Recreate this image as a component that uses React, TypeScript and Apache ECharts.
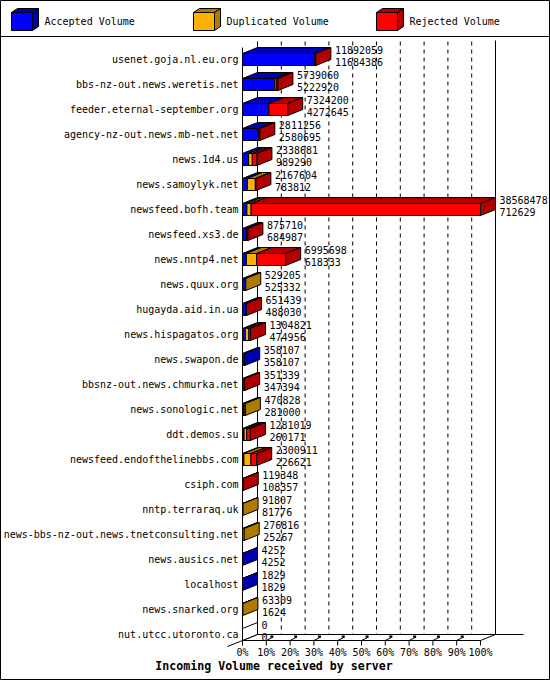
import React, { useEffect, useRef } from "react";
import * as echarts from "echarts";

const servers = [
  "usenet.goja.nl.eu.org",
  "bbs-nz-out.news.weretis.net",
  "feeder.eternal-september.org",
  "agency-nz-out.news.mb-net.net",
  "news.1d4.us",
  "news.samoylyk.net",
  "newsfeed.bofh.team",
  "newsfeed.xs3.de",
  "news.nntp4.net",
  "news.quux.org",
  "hugayda.aid.in.ua",
  "news.hispagatos.org",
  "news.swapon.de",
  "bbsnz-out.news.chmurka.net",
  "news.sonologic.net",
  "ddt.demos.su",
  "newsfeed.endofthelinebbs.com",
  "csiph.com",
  "nntp.terraraq.uk",
  "news-bbs-nz-out.news.tnetconsulting.net",
  "news.ausics.net",
  "localhost",
  "news.snarked.org",
  "nut.utcc.utoronto.ca",
];

const totalVolume = [
  11892059, 5739060, 7324200, 2811256, 2338681, 2167604, 38568478, 875710,
  6995698, 529205, 651439, 1304821, 358107, 351339, 470828, 1281019, 2300911,
  119348, 91807, 276816, 4252, 1829, 63309, 0,
];
const acceptedVolume = [
  11684386, 5222920, 4272645, 2580695, 989290, 783812, 712629, 684987, 618333,
  525332, 488030, 474956, 358107, 347394, 281000, 260171, 226621, 108357,
  81776, 25267, 4252, 1829, 1624, 0,
];
const duplicatedVolume = [
  0, 250000, 0, 0, 600000, 1300000, 680000, 0, 1690000, 3873, 0, 560000, 0, 0,
  189828, 420000, 1130000, 0, 10031, 251549, 0, 0, 61685, 0,
];
const rejectedVolume = [
  207673, 266140, 3051555, 230561, 749391, 83792, 37175849, 190723, 4687365, 0,
  163409, 269865, 0, 3945, 0, 600848, 944290, 10991, 0, 0, 0, 0, 0, 0,
];

const percentTicks = [0, 10, 20, 30, 40, 50, 60, 70, 80, 90, 100];

const legendNames = ["Accepted Volume", "Duplicated Volume", "Rejected Volume"];
const frontColors = ["#0000ff", "#ffb000", "#ff0000"];
const darkColors = ["#0000b0", "#b07a00", "#b00000"];

const FONT = '10px "DejaVu Sans Mono", monospace';
const DX = 15; // depth of the 3d effect
const DY = -6;
const HALF = 6; // half height of a bar's front face

export default function App() {
  const chartRef = useRef<HTMLDivElement>(null);

  useEffect(() => {
    if (!chartRef.current) return;
    const chart = echarts.init(chartRef.current, null, { renderer: "svg" });
    const maxTotal = Math.max(...totalVolume);
    const n = servers.length;

    const barData = servers.map((_, i) => [
      totalVolume[i],
      i,
      acceptedVolume[i],
      duplicatedVolume[i],
      rejectedVolume[i],
    ]);

    const renderBar = (params: any, api: any) => {
      const i = api.value(1);
      const parts = [api.value(2), api.value(3), api.value(4)];
      const tot = api.value(0);
      const yc = api.coord([0, i])[1];
      const top = yc - HALF;
      const bottom = yc + HALF;
      const children: any[] = [];
      let start = 0;
      let sideColor = "#ffffff";
      parts.forEach((v: number, k: number) => {
        if (v <= 0) return;
        const xa = api.coord([start, i])[0];
        const xb = api.coord([start + v, i])[0];
        children.push({
          type: "polygon",
          shape: {
            points: [
              [xa, top],
              [xa + DX, top + DY],
              [xb + DX, top + DY],
              [xb, top],
            ],
          },
          style: { fill: darkColors[k], stroke: "#000", lineWidth: 1 },
        });
        children.push({
          type: "rect",
          shape: { x: xa, y: top, width: xb - xa, height: bottom - top },
          style: { fill: frontColors[k], stroke: "#000", lineWidth: 1 },
        });
        start += v;
        sideColor = darkColors[k];
      });
      const xe = api.coord([tot, i])[0];
      children.push({
        type: "polygon",
        shape: {
          points: [
            [xe, top],
            [xe + DX, top + DY],
            [xe + DX, bottom + DY],
            [xe, bottom],
          ],
        },
        style: { fill: sideColor, stroke: "#000", lineWidth: 1 },
      });
      children.push({
        type: "text",
        style: {
          text: String(tot),
          x: xe + DX + 4,
          y: yc - 9,
          font: FONT,
          fill: "#000",
          align: "left",
          verticalAlign: "middle",
        },
      });
      children.push({
        type: "text",
        style: {
          text: String(parts[0]),
          x: xe + DX + 4,
          y: yc + 2.5,
          font: FONT,
          fill: "#000",
          align: "left",
          verticalAlign: "middle",
        },
      });
      return { type: "group", children };
    };

    const renderFrame = (params: any, api: any) => {
      const xL = api.coord([0, 0])[0];
      const xR = api.coord([maxTotal, 0])[0];
      const yTop = api.coord([0, 0])[1] - HALF - 12;
      const yFront = api.coord([0, n - 1])[1] + HALF;
      const yBack = yFront + DY;
      const line = (x1: number, y1: number, x2: number, y2: number, dash?: number[]) => ({
        type: "line",
        shape: { x1, y1, x2, y2 },
        style: { stroke: "#000", lineWidth: 1, lineDash: dash },
      });
      const children: any[] = [];
      // back wall
      children.push(line(xL + DX, yTop, xL + DX, yBack));
      children.push(line(xR + DX, yTop - 1, xR + DX, yBack));
      percentTicks.forEach((p) => {
        if (p === 0 || p === 100) return;
        const x = api.coord([(p / 100) * maxTotal, 0])[0] + DX;
        children.push(line(x, yTop, x, yBack, [4, 4]));
      });
      // front left edge
      children.push(line(xL, yTop - DY, xL, yFront));
      // floor
      children.push(line(xL, yFront, xR, yFront));
      children.push(line(xL + DX, yBack, xR + DX + 28, yBack));
      children.push(line(xL - DX, yFront - DY, xL + DX, yBack));
      children.push(line(xR, yFront, xR + DX, yBack));
      percentTicks.forEach((p) => {
        const x = api.coord([(p / 100) * maxTotal, 0])[0];
        children.push(line(x, yFront, x, yFront + 5));
        if (p !== 0 && p !== 100) {
          children.push(line(x, yFront, x + 7, yFront - 3.5));
          children.push({
            type: "rect",
            shape: { x: x + 4, y: yFront - 5, width: 3, height: 2 },
            style: { fill: "#000" },
          });
        }
        children.push({
          type: "text",
          style: {
            text: p + "%",
            x,
            y: yFront + 12,
            font: FONT,
            fill: "#000",
            align: "center",
            verticalAlign: "middle",
          },
        });
      });
      return { type: "group", children };
    };

    const legendItems: any[] = [];
    const legendX = [11.5, 193.5, 376.5];
    legendNames.forEach((name, k) => {
      const x = legendX[k];
      legendItems.push({
        type: "polygon",
        shape: { points: [[x, 12.5], [x + 6, 8.5], [x + 27, 8.5], [x + 21, 12.5]] },
        style: { fill: darkColors[k], stroke: "#000", lineWidth: 1 },
      });
      legendItems.push({
        type: "polygon",
        shape: { points: [[x + 21, 12.5], [x + 27, 8.5], [x + 27, 26.5], [x + 21, 30.5]] },
        style: { fill: darkColors[k], stroke: "#000", lineWidth: 1 },
      });
      legendItems.push({
        type: "rect",
        shape: { x, y: 12.5, width: 21, height: 18 },
        style: { fill: frontColors[k], stroke: "#000", lineWidth: 1 },
      });
      legendItems.push({
        type: "text",
        style: {
          text: name,
          x: x + 33,
          y: 21,
          font: FONT,
          fill: "#000",
          align: "left",
          verticalAlign: "middle",
        },
      });
    });

    chart.setOption({
      animation: false,
      backgroundColor: "#ffffff",
      grid: { left: 242.5, right: 69.5, top: 47, bottom: 33 },
      xAxis: { type: "value", min: 0, max: maxTotal, show: false },
      yAxis: {
        type: "category",
        data: servers,
        inverse: true,
        axisLine: { show: false },
        axisTick: { show: false },
        splitLine: { show: false },
        axisLabel: {
          margin: 4,
          color: "#000",
          fontFamily: '"DejaVu Sans Mono", monospace',
          fontSize: 10,
        },
      },
      graphic: [
        {
          type: "rect",
          shape: { x: 0.5, y: 0.5, width: 549, height: 679 },
          style: { fill: "none", stroke: "#000", lineWidth: 1 },
        },
        {
          type: "line",
          shape: { x1: 0, y1: 36.5, x2: 550, y2: 36.5 },
          style: { stroke: "#000", lineWidth: 1 },
        },
        ...legendItems,
        {
          type: "text",
          style: {
            text: "Incoming Volume received by server",
            x: 274,
            y: 666,
            font: 'bold 11.6px "DejaVu Sans Mono", monospace',
            fill: "#000",
            align: "center",
            verticalAlign: "middle",
          },
        },
      ],
      series: [
        {
          type: "custom",
          name: "frame",
          data: [[0, 0]],
          encode: { x: 0, y: 1 },
          renderItem: renderFrame,
          clip: false,
          silent: true,
          z: 1,
        },
        {
          type: "custom",
          name: "volume",
          data: barData,
          encode: { x: 0, y: 1 },
          renderItem: renderBar,
          clip: false,
          z: 2,
        },
      ],
    });

    return () => {
      chart.dispose();
    };
  }, []);

  return (
    <div
      ref={chartRef}
      style={{ position: "absolute", left: 0, top: 0, width: 550, height: 680 }}
    />
  );
}
